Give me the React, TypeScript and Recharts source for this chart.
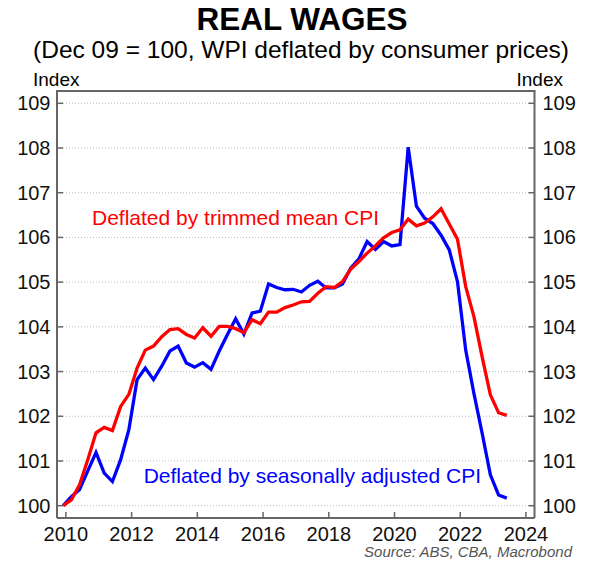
import React from "react";
import {
  LineChart,
  Line,
  XAxis,
  YAxis,
  CartesianGrid,
} from "recharts";

// quarterly, Dec 09 = 100
const quarters = [
  "Dec 09",
  "Mar 10", "Jun 10", "Sep 10", "Dec 10",
  "Mar 11", "Jun 11", "Sep 11", "Dec 11",
  "Mar 12", "Jun 12", "Sep 12", "Dec 12",
  "Mar 13", "Jun 13", "Sep 13", "Dec 13",
  "Mar 14", "Jun 14", "Sep 14", "Dec 14",
  "Mar 15", "Jun 15", "Sep 15", "Dec 15",
  "Mar 16", "Jun 16", "Sep 16", "Dec 16",
  "Mar 17", "Jun 17", "Sep 17", "Dec 17",
  "Mar 18", "Jun 18", "Sep 18", "Dec 18",
  "Mar 19", "Jun 19", "Sep 19", "Dec 19",
  "Mar 20", "Jun 20", "Sep 20", "Dec 20",
  "Mar 21", "Jun 21", "Sep 21", "Dec 21",
  "Mar 22", "Jun 22", "Sep 22", "Dec 22",
  "Mar 23", "Jun 23",
];

const trimmedMean = [
  100.0,
  100.13, 100.47, 101.03, 101.63,
  101.75, 101.68, 102.22, 102.49,
  103.08, 103.48, 103.57, 103.78,
  103.94, 103.96, 103.83, 103.75,
  103.98, 103.79, 104.01, 104.01,
  103.96, 103.87, 104.16, 104.07,
  104.33, 104.33, 104.43, 104.49,
  104.56, 104.57, 104.75, 104.9,
  104.88, 105.01, 105.29, 105.46,
  105.65, 105.81, 105.99, 106.11,
  106.17, 106.41, 106.26, 106.32,
  106.46, 106.64, 106.3, 105.96,
  104.9, 104.23, 103.33, 102.48,
  102.08, 102.02,
];

const seasAdj = [
  100.0,
  100.2, 100.36, 100.78, 101.19,
  100.73, 100.54, 101.03, 101.7,
  102.82, 103.08, 102.82, 103.12,
  103.46, 103.57, 103.19, 103.1,
  103.2, 103.05, 103.46, 103.83,
  104.18, 103.84, 104.31, 104.35,
  104.96, 104.88, 104.83, 104.84,
  104.78, 104.93, 105.02, 104.87,
  104.87, 104.96, 105.31, 105.52,
  105.91, 105.73, 105.91, 105.81,
  105.84, 108.02, 106.7, 106.43,
  106.31, 106.05, 105.72, 105.01,
  103.48, 102.51, 101.62, 100.69,
  100.24, 100.17,
];

const xTicks = [2010, 2012, 2014, 2016, 2018, 2020, 2022, 2024];
const yTicks = [100, 101, 102, 103, 104, 105, 106, 107, 108, 109];

const MONTHS = ["Jan", "Feb", "Mar", "Apr", "May", "Jun", "Jul", "Aug", "Sep", "Oct", "Nov", "Dec"];

function toYear(label: string) {
  const [m, y] = label.split(" ");
  return 2000 + Number(y) + MONTHS.indexOf(m) / 12;
}

const data = quarters.map((q, i) => ({
  t: toYear(q),
  trimmed: trimmedMean[i],
  sa: seasAdj[i],
}));

const FONT = "'Liberation Sans', Arial, Helvetica, sans-serif";
const FRAME = "#666666";

const LeftTick = (props: any) => {
  const { x, y, payload } = props;
  return (
    <g>
      <line x1={x} x2={x + 6} y1={y} y2={y} stroke={FRAME} strokeWidth={1.5} />
      <text x={x - 6.5} y={y} dy={7} textAnchor="end" fontSize={20} fontFamily={FONT} fill="#111">
        {payload.value}
      </text>
    </g>
  );
};

const RightTick = (props: any) => {
  const { x, y, payload } = props;
  return (
    <g>
      <line x1={x - 6} x2={x} y1={y} y2={y} stroke={FRAME} strokeWidth={1.5} />
      <text x={x + 8} y={y} dy={7} textAnchor="start" fontSize={20} fontFamily={FONT} fill="#111">
        {payload.value}
      </text>
    </g>
  );
};

const BottomTick = (props: any) => {
  const { x, y, payload } = props;
  return (
    <g>
      <line x1={x} x2={x} y1={y - 6} y2={y} stroke={FRAME} strokeWidth={1.5} />
      <text x={x} y={y + 23} textAnchor="middle" fontSize={20} fontFamily={FONT} fill="#111">
        {payload.value}
      </text>
    </g>
  );
};

export default function App() {
  return (
    <div style={{ position: "relative", width: 602, height: 574, background: "#fff" }}>
      <style>{"body{margin:0}"}</style>
      <LineChart
        width={602}
        height={574}
        data={data}
        margin={{ top: 91, right: 0, bottom: 0, left: 0 }}
      >
        <CartesianGrid
          yAxisId="l"
          vertical={false}
          stroke="#bdbdbd"
          strokeDasharray="1 2"
        />
        <XAxis
          dataKey="t"
          type="number"
          domain={[2009.73, 2024.26]}
          ticks={xTicks}
          allowDataOverflow
          height={56}
          tickSize={0}
          tickMargin={0}
          tickLine={false}
          axisLine={{ stroke: FRAME, strokeWidth: 2 }}
          tick={BottomTick}
        />
        <YAxis
          yAxisId="l"
          orientation="left"
          type="number"
          domain={[99.725, 109.275]}
          ticks={yTicks}
          allowDataOverflow
          width={57}
          tickSize={0}
          tickMargin={0}
          tickLine={false}
          axisLine={{ stroke: FRAME, strokeWidth: 2 }}
          tick={LeftTick}
        />
        <YAxis
          yAxisId="r"
          orientation="right"
          type="number"
          domain={[99.725, 109.275]}
          ticks={yTicks}
          allowDataOverflow
          width={67.5}
          tickSize={0}
          tickMargin={0}
          tickLine={false}
          axisLine={{ stroke: FRAME, strokeWidth: 2 }}
          tick={RightTick}
        />
        <Line
          yAxisId="l"
          type="linear"
          dataKey="sa"
          stroke="#0000ff"
          strokeWidth={3.3}
          dot={false}
          isAnimationActive={false}
        />
        <Line
          yAxisId="l"
          type="linear"
          dataKey="trimmed"
          stroke="#ff0000"
          strokeWidth={3.3}
          dot={false}
          isAnimationActive={false}
        />
      </LineChart>
      <svg
        width={602}
        height={574}
        style={{ position: "absolute", left: 0, top: 0, pointerEvents: "none" }}
        fontFamily={FONT}
      >
        <line x1={56} x2={535.5} y1={91} y2={91} stroke={FRAME} strokeWidth={2} />
        <text x={302} y={30} textAnchor="middle" fontSize={31.5} fontWeight="bold" fill="#000">
          REAL WAGES
        </text>
        <text x={301} y={58} textAnchor="middle" fontSize={24.5} fill="#000">
          (Dec 09 = 100, WPI deflated by consumer prices)
        </text>
        <text x={33} y={86} textAnchor="start" fontSize={19} fill="#000">
          Index
        </text>
        <text x={563} y={86} textAnchor="end" fontSize={19} fill="#000">
          Index
        </text>
        <text x={92} y={225} textAnchor="start" fontSize={21} fill="#ff0000">
          Deflated by trimmed mean CPI
        </text>
        <text x={481} y={483} textAnchor="end" fontSize={21} fill="#0000ff">
          Deflated by seasonally adjusted CPI
        </text>
        <text x={572} y={557} textAnchor="end" fontSize={15} fontStyle="italic" fill="#555">
          Source: ABS, CBA, Macrobond
        </text>
      </svg>
    </div>
  );
}
